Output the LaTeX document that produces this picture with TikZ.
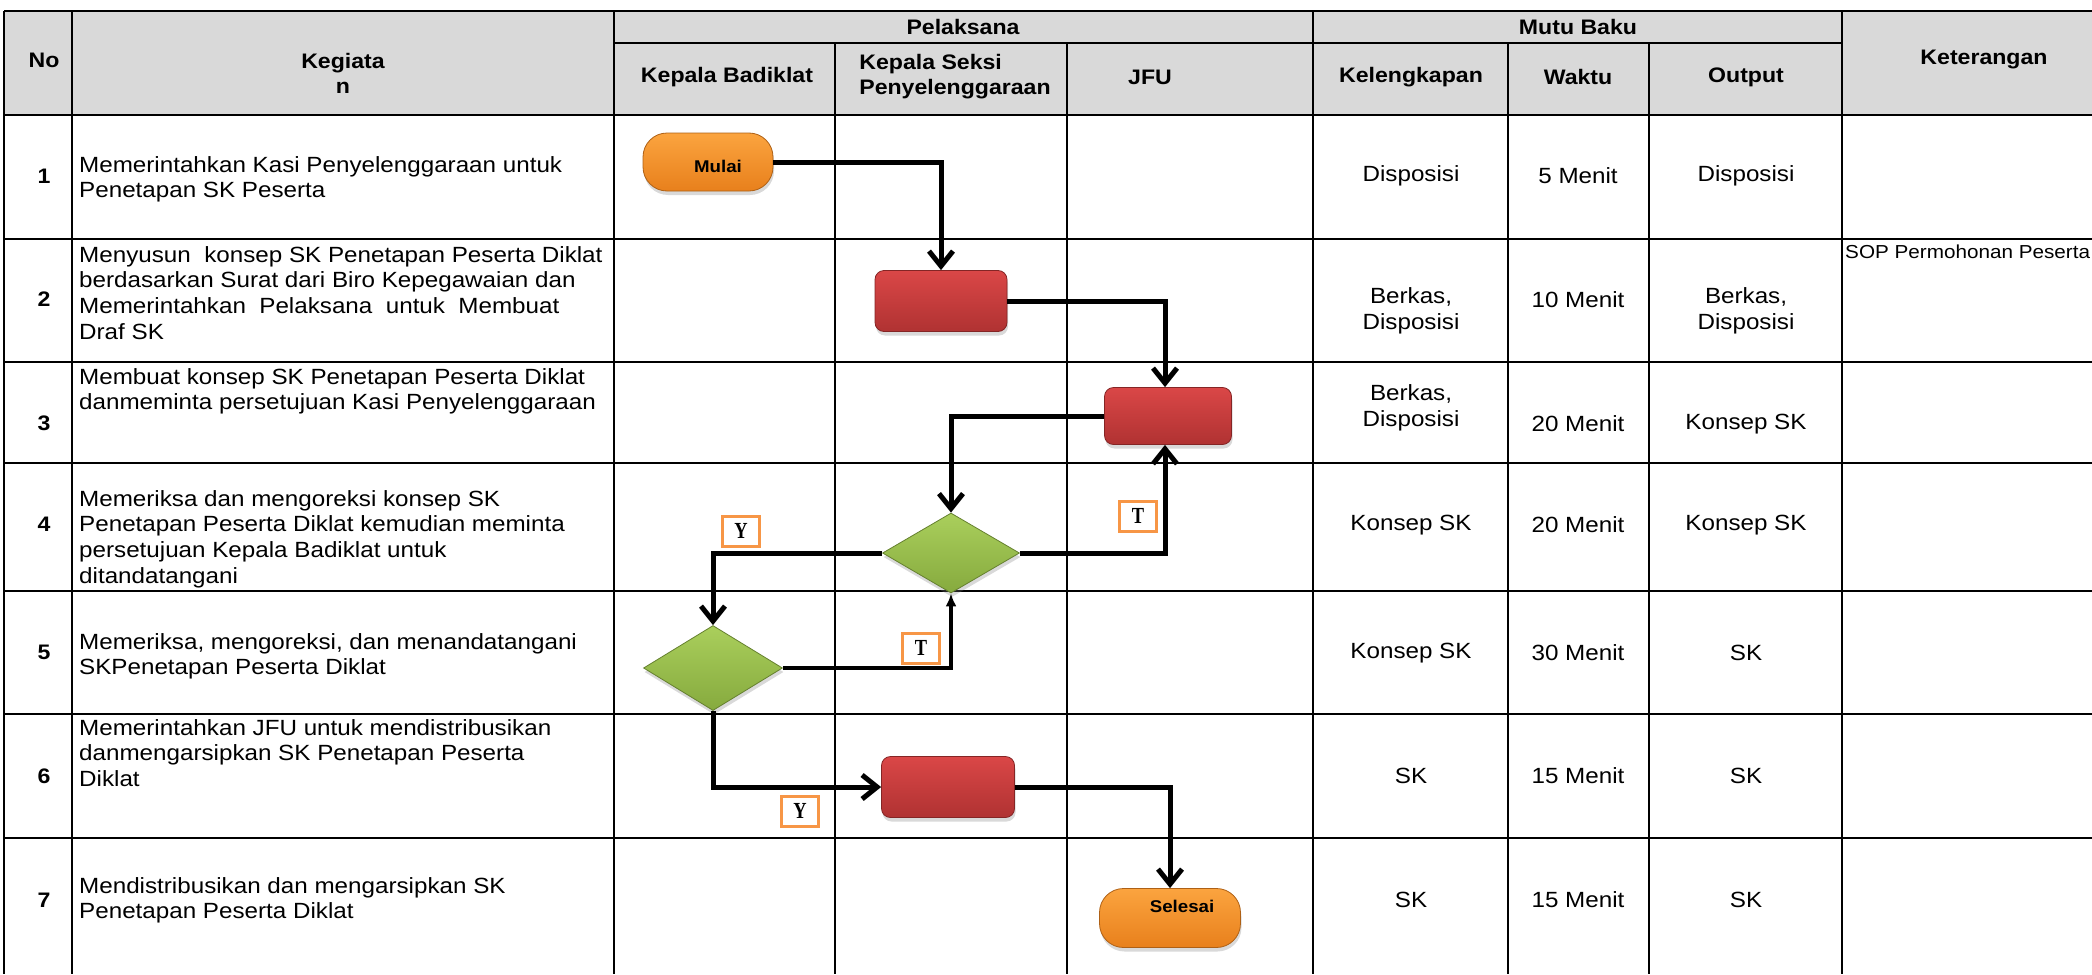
\documentclass[tikz,border=0pt]{standalone}
\usepackage{fontspec}
\setmainfont{Liberation Sans}[FakeStretch=1.1]
\newfontfamily\lblfont{Liberation Serif}[FakeStretch=0.8]
\usetikzlibrary{arrows.meta,shapes.geometric,shadows}
\definecolor{hdrgray}{HTML}{D9D9D9}
\definecolor{orgtop}{HTML}{FBA43F}
\definecolor{orgbot}{HTML}{E8801C}
\definecolor{redtop}{HTML}{DA4747}
\definecolor{redbot}{HTML}{B03232}
\definecolor{grntop}{HTML}{AACF5C}
\definecolor{grnbot}{HTML}{86AA3E}
\definecolor{lblorange}{HTML}{F79646}
\newcommand\bodysz{\fontsize{22pt}{25.7pt}\selectfont}
\newcommand\hdrsz{\fontsize{21pt}{25pt}\selectfont\bfseries}
\newcommand\sopsz{\fontsize{18.8pt}{22pt}\selectfont}
\begin{document}
\begin{tikzpicture}[x=1pt,y=-1pt,
  gridline/.style={line width=2.9pt},
  hdr/.style={font=\hdrsz, inner sep=0pt},
  body/.style={font=\bodysz, inner sep=0pt, align=left, anchor=north west},
  cell/.style={font=\bodysz, inner sep=0pt, align=center},
  term/.style={rounded corners=24pt, top color=orgtop, bottom color=orgbot,
    draw=orgbot!75!black, line width=0.8pt, inner sep=0pt,
    font=\fontsize{17pt}{17pt}\selectfont\bfseries,
    drop shadow={opacity=0.3, shadow xshift=1pt, shadow yshift=-4pt}},
  proc/.style={rounded corners=9pt, top color=redtop, bottom color=redbot,
    draw=redbot!75!black, line width=0.8pt, inner sep=0pt,
    drop shadow={opacity=0.3, shadow xshift=1pt, shadow yshift=-4pt}},
  dec/.style={diamond, aspect=1.7, inner sep=0pt, top color=grntop, bottom color=grnbot,
    draw=grnbot!75!black, line width=0.8pt,
    drop shadow={opacity=0.3, shadow xshift=1pt, shadow yshift=-4pt}},
  lbl/.style={draw=lblorange, line width=3pt, fill=white, minimum width=37pt,
    minimum height=30pt, inner sep=0pt, font=\lblfont\bfseries\fontsize{23pt}{23pt}\selectfont},
  flow/.style={line width=5pt, -{Straight Barb[length=15pt,width=24pt]}},
  thinflow/.style={line width=3.3pt, -{Latex[length=13pt,width=11pt]}}
]
\useasboundingbox (0,0) rectangle (2092,974);
% header background
\fill[hdrgray] (4,11) rectangle (2092,115);
% grid
\foreach \yy in {11,115,239,362,463,591,714,838}
  \draw[gridline] (4,\yy) -- (2092,\yy);
\draw[gridline] (614,43) -- (1842,43);
\foreach \xx in {4,72,614,1313,1842}
  \draw[gridline] (\xx,11) -- (\xx,974);
\foreach \xx in {835,1067,1508,1649}
  \draw[gridline] (\xx,43) -- (\xx,974);
% headers
\node[hdr] (hno) at (44,60) {No};
\node[hdr, align=center] (hkeg) at (343,73) {Kegiata\\n};
\node[hdr] (hpel) at (963,27) {Pelaksana};
\node[hdr] (hmutu) at (1578,27) {Mutu Baku};
\node[hdr] (hket) at (1984,60) {Keterangan};
\node[hdr] (hkb) at (727,77) {Kepala Badiklat};
\node[hdr, align=left] (hks) at (955,77) {Kepala Seksi\\Penyelenggaraan};
\node[hdr] (hjfu) at (1150,77) {JFU};
\node[hdr] (hkel) at (1411,77) {Kelengkapan};
\node[hdr] (hwak) at (1578,77) {Waktu};
\node[hdr] (hout) at (1746,77) {Output};
% numbers
\node[hdr] (n1) at (44,176) {1};
\node[hdr] (n2) at (44,299) {2};
\node[hdr] (n3) at (44,423) {3};
\node[hdr] (n4) at (44,524) {4};
\node[hdr] (n5) at (44,652) {5};
\node[hdr] (n6) at (44,776) {6};
\node[hdr] (n7) at (44,900) {7};
% activities
\node[body] (k1) at (79,156) {Memerintahkan Kasi Penyelenggaraan untuk\\Penetapan SK Peserta};
\node[body] (k2) at (79,246) {Menyusun\ \ konsep SK Penetapan Peserta Diklat\\berdasarkan Surat dari Biro Kepegawaian dan\\Memerintahkan\ \ Pelaksana\ \ untuk\ \ Membuat\\Draf SK};
\node[body] (k3) at (79,368) {Membuat konsep SK Penetapan Peserta Diklat\\danmeminta persetujuan Kasi Penyelenggaraan};
\node[body] (k4) at (79,490) {Memeriksa dan mengoreksi konsep SK\\Penetapan Peserta Diklat kemudian meminta\\persetujuan Kepala Badiklat untuk\\ditandatangani};
\node[body] (k5) at (79,633) {Memeriksa, mengoreksi, dan menandatangani\\SKPenetapan Peserta Diklat};
\node[body] (k6) at (79,719) {Memerintahkan JFU untuk mendistribusikan\\danmengarsipkan SK Penetapan Peserta\\Diklat};
\node[body] (k7) at (79,877) {Mendistribusikan dan mengarsipkan SK\\Penetapan Peserta Diklat};
% mutu baku
\node[cell] (a1) at (1411,176) {Disposisi};
\node[cell] (b1) at (1578,176) {5 Menit};
\node[cell] (c1) at (1746,176) {Disposisi};
\node[cell] (a2) at (1411,311) {Berkas,\\Disposisi};
\node[cell] (b2) at (1578,300) {10 Menit};
\node[cell] (c2) at (1746,311) {Berkas,\\Disposisi};
\node[cell] (a3) at (1411,408) {Berkas,\\Disposisi};
\node[cell] (b3) at (1578,424) {20 Menit};
\node[cell] (c3) at (1746,424) {Konsep SK};
\node[cell] (a4) at (1411,525) {Konsep SK};
\node[cell] (b4) at (1578,525) {20 Menit};
\node[cell] (c4) at (1746,525) {Konsep SK};
\node[cell] (a5) at (1411,653) {Konsep SK};
\node[cell] (b5) at (1578,653) {30 Menit};
\node[cell] (c5) at (1746,653) {SK};
\node[cell] (a6) at (1411,776) {SK};
\node[cell] (b6) at (1578,776) {15 Menit};
\node[cell] (c6) at (1746,776) {SK};
\node[cell] (a7) at (1411,900) {SK};
\node[cell] (b7) at (1578,900) {15 Menit};
\node[cell] (c7) at (1746,900) {SK};
\node[font=\sopsz, inner sep=0pt, anchor=north west] (sop) at (1845,245) {SOP Permohonan Peserta};
% flowchart shapes
\node[term, minimum width=130pt, minimum height=58pt, text height=20pt, text depth=0pt] (mulai) at (708,162) {\hspace*{20pt}Mulai};
\node[proc, minimum width=132pt, minimum height=61pt] (red1) at (941,301) {};
\node[proc, minimum width=127pt, minimum height=57pt] (red2) at (1168,416) {};
\node[dec, minimum width=137pt, minimum height=80pt] (d1) at (951,553) {};
\node[dec, minimum width=139pt, minimum height=85pt] (d2) at (713,668) {};
\node[proc, minimum width=133pt, minimum height=61pt] (red3) at (948,787) {};
\node[term, minimum width=141pt, minimum height=59pt, text height=12pt, text depth=24pt] (selesai) at (1170,918) {\hspace*{24pt}Selesai};
% connectors
\draw[flow] (mulai.east) -| (red1.north);
\draw[flow] (red1.east) -| ([xshift=-3pt]red2.north);
\draw[flow] (red2.west) -| (d1.north);
\draw[flow] (d1.east) -| ([xshift=-3pt]red2.south);
\draw[flow] (d1.west) -| (d2.north);
\draw[thinflow] (d2.east) -| (d1.south);
\draw[flow] (d2.south) |- (red3.west);
\draw[flow] (red3.east) -| (selesai.north);
% labels
\node[lbl] (y1) at (741,531) {Y};
\node[lbl] (t1) at (1138,516) {T};
\node[lbl] (t2) at (921,648) {T};
\node[lbl] (y2) at (800,811) {Y};
\end{tikzpicture}
\end{document}
